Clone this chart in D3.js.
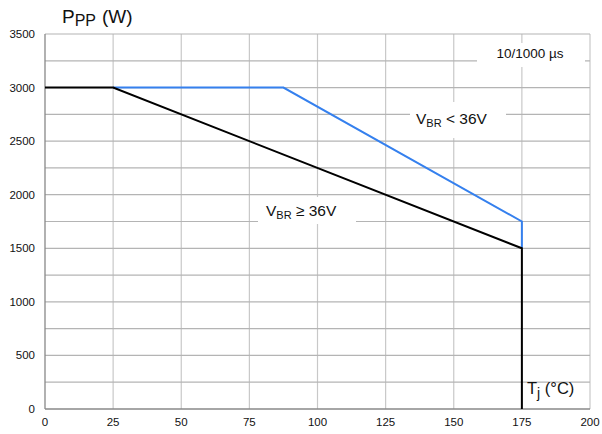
<!DOCTYPE html>
<html><head><meta charset="utf-8">
<script src="https://cdn.jsdelivr.net/npm/d3@7"></script>
<style>body{margin:0;background:#fff}svg{display:block;font-family:"Liberation Sans",Arial,sans-serif}</style>
</head><body><svg id="c" width="602" height="434"></svg>
<script>
const xTicks = [0, 25, 50, 75, 100, 125, 150, 175, 200];
const yTicks = [0, 500, 1000, 1500, 2000, 2500, 3000, 3500];
const yGrid = [250, 750, 1250, 1750, 2250, 2750, 3250];
const blackT = [0, 25, 175, 175];
const blackP = [3000, 3000, 1500, 0];
const blueT = [25, 87.5, 175, 175];
const blueP = [3000, 3000, 1750, 1500];

const svg = d3.select("#c");
const x = d3.scaleLinear().domain([0, 200]).range([45, 590]);
const y = d3.scaleLinear().domain([0, 3500]).range([409, 34]);

// grid
const g = svg.append("g");
g.selectAll(".vx").data(xTicks.slice(1)).enter().append("line")
  .attr("x1", d => x(d)).attr("x2", d => x(d)).attr("y1", y(0)).attr("y2", y(3500))
  .attr("stroke", "#c8c8c8").attr("stroke-width", 1.2);
g.selectAll(".hy").data(yTicks.slice(1).concat(yGrid)).enter().append("line")
  .attr("x1", x(0)).attr("x2", x(200)).attr("y1", d => y(d)).attr("y2", d => y(d))
  .attr("stroke", "#b4b4b4").attr("stroke-width", 1.2);

// label boxes (white, interrupt grid)
const boxes = [[477, 43, 108, 24], [410, 102, 96, 36], [258, 197, 98, 27]];
svg.selectAll(".bx").data(boxes).enter().append("rect")
  .attr("x", d => d[0]).attr("y", d => d[1]).attr("width", d => d[2]).attr("height", d => d[3])
  .attr("fill", "#fff");

// axes lines
svg.append("line").attr("x1", x(0)).attr("x2", x(0)).attr("y1", y(0)).attr("y2", y(3500)).attr("stroke", "#888").attr("stroke-width", 1.3);
svg.append("line").attr("x1", x(0)).attr("x2", x(200)).attr("y1", y(0)).attr("y2", y(0)).attr("stroke", "#888").attr("stroke-width", 1.3);

// tick labels
svg.append("g").selectAll("text").data(xTicks).enter().append("text")
  .attr("x", d => x(d)).attr("y", 426).attr("text-anchor", "middle")
  .attr("font-size", 11.5).attr("fill", "#111").text(d => d);
svg.append("g").selectAll("text").data(yTicks).enter().append("text")
  .attr("x", 35).attr("y", d => y(d) + 4).attr("text-anchor", "end")
  .attr("font-size", 11.5).attr("fill", "#111").text(d => d);

// lines
const line = d3.line().x(d => x(d[0])).y(d => y(d[1]));
svg.append("path").datum(blueT.map((t, i) => [t, blueP[i]])).attr("d", line)
  .attr("fill", "none").attr("stroke", "#3580ee").attr("stroke-width", 2);
svg.append("path").datum(blackT.map((t, i) => [t, blackP[i]])).attr("d", line)
  .attr("fill", "none").attr("stroke", "#000").attr("stroke-width", 2);

// texts
const t1 = svg.append("text").attr("x", 62).attr("y", 23).attr("font-size", 19).attr("fill", "#111");
t1.append("tspan").text("P");
t1.append("tspan").attr("dy", 3).attr("font-size", 16).text("PP");
t1.append("tspan").attr("dy", -3).attr("dx", 6).text("(W)");

svg.append("text").attr("x", 530).attr("y", 58).attr("text-anchor", "middle").attr("font-size", 13.5).attr("fill", "#111").text("10/1000 µs");

const t2 = svg.append("text").attr("x", 416).attr("y", 124).attr("font-size", 15.5).attr("fill", "#111");
t2.append("tspan").text("V");
t2.append("tspan").attr("dy", 3).attr("font-size", 11).text("BR");
t2.append("tspan").attr("dy", -3).text(" < 36V");

const t3 = svg.append("text").attr("x", 266).attr("y", 216).attr("font-size", 15.5).attr("fill", "#111");
t3.append("tspan").text("V");
t3.append("tspan").attr("dy", 3).attr("font-size", 11).text("BR");
t3.append("tspan").attr("dy", -3).text(" ≥ 36V");

const t4 = svg.append("text").attr("x", 527).attr("y", 394).attr("font-size", 16.5).attr("fill", "#111");
t4.append("tspan").text("T");
t4.append("tspan").attr("dy", 4).attr("font-size", 14).text("j");
t4.append("tspan").attr("dy", -4).text(" (°C)");
</script></body></html>
